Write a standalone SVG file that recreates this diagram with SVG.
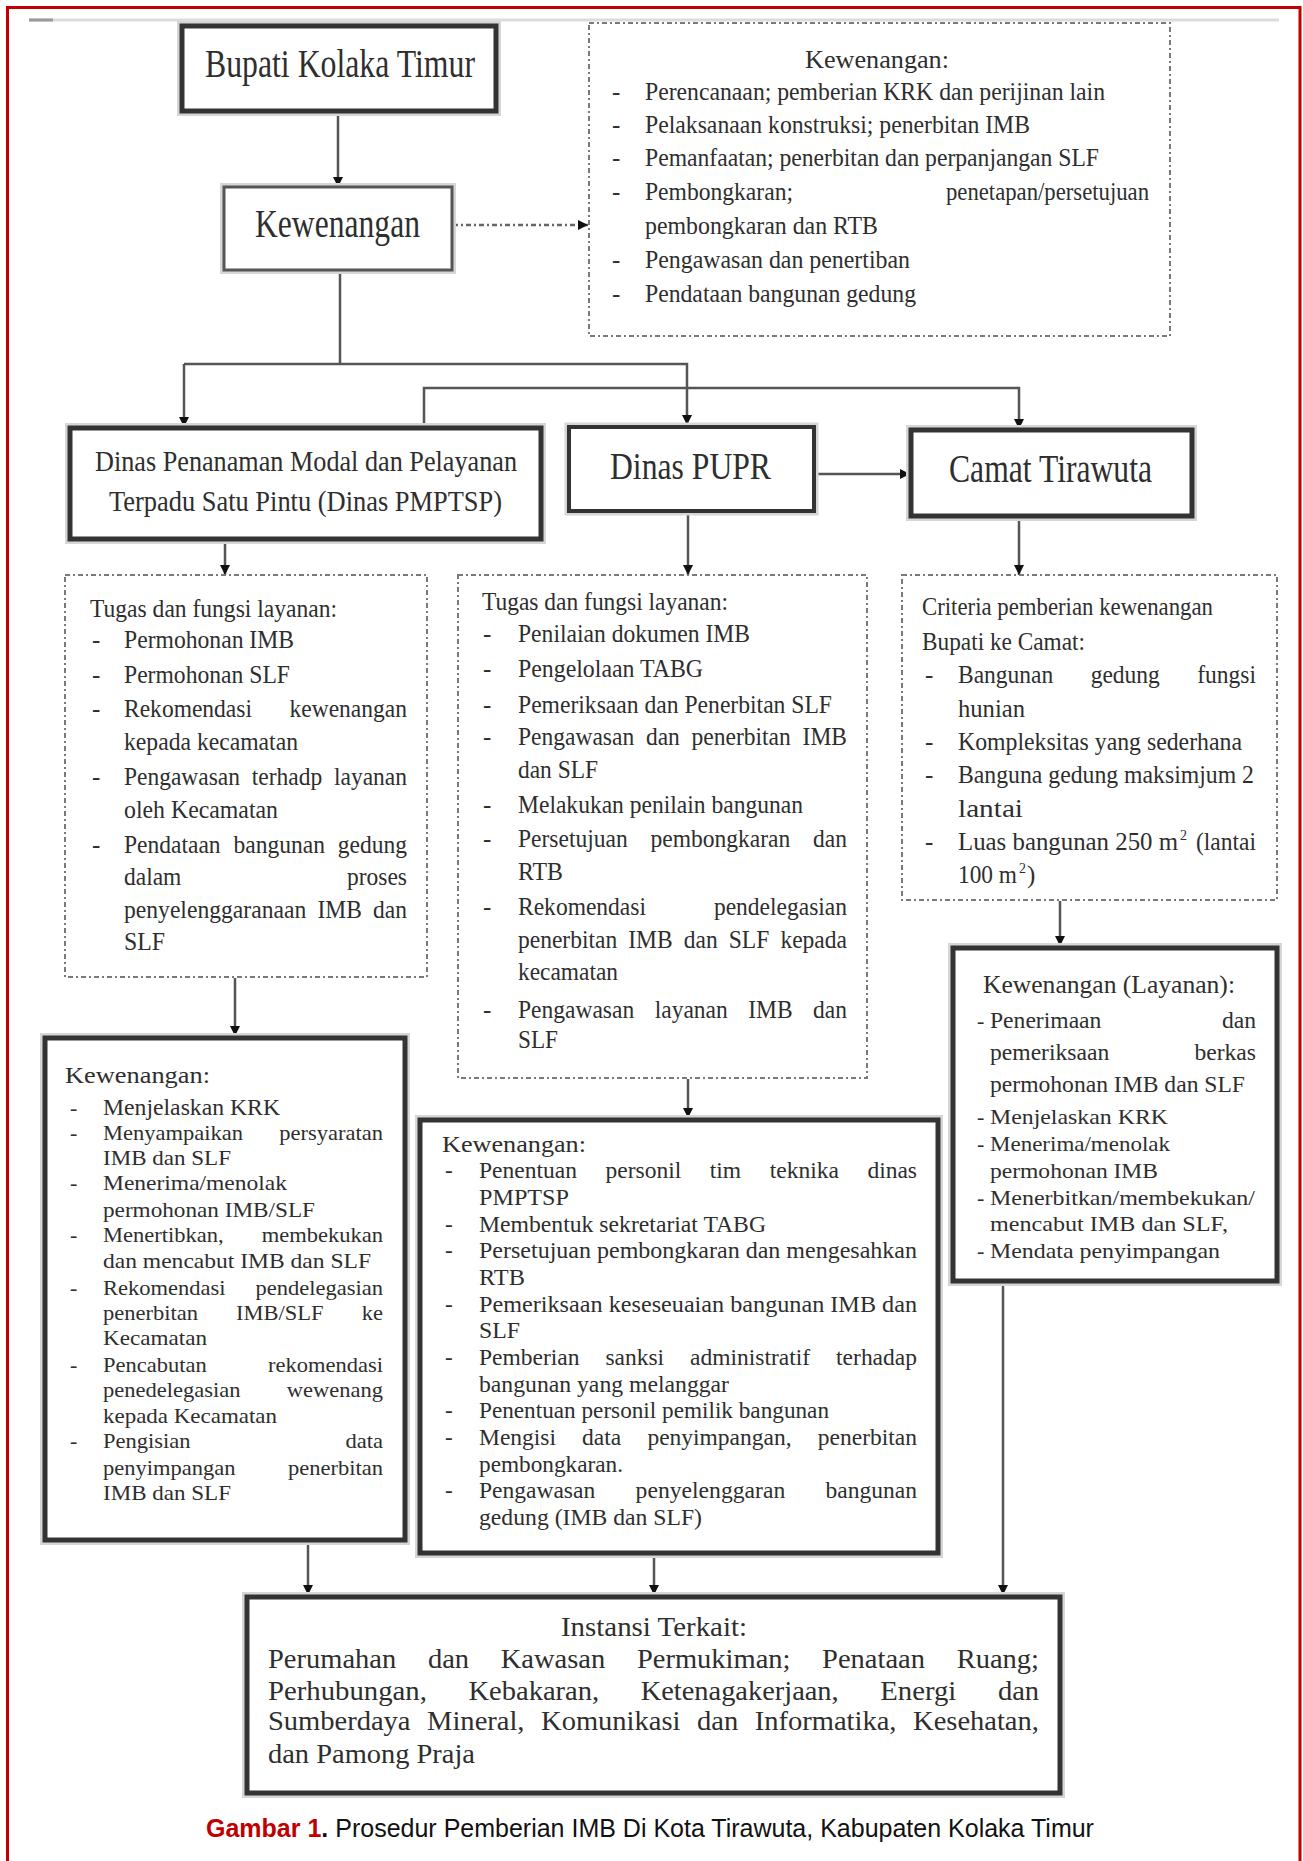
<svg xmlns="http://www.w3.org/2000/svg" width="1303" height="1861" viewBox="0 0 1303 1861">
<style>
.t{font-family:"Liberation Serif","Times New Roman",serif;fill:#2e2e2e}
.cap{font-family:"Liberation Sans",Arial,sans-serif;font-size:25px}
.box{fill:#fff;stroke:#333}
.halo{fill:none;stroke:#d6d6d6}
.dot{fill:#fff;stroke:#7a7a7a;stroke-width:2;stroke-dasharray:5 3 2 3}
.ln{fill:none;stroke:#555;stroke-width:2.5}
.s40{font-size:40px}.s38{font-size:38px}.s30{font-size:30px}.s28{font-size:28px}.s25{font-size:25px}.s24{font-size:24px}.s23{font-size:23px}.s22{font-size:22px}.s21{font-size:21px}
.sup{font-size:14px}
</style>
<defs>
<marker id="ah" viewBox="0 0 10 10" refX="10" refY="5" markerWidth="10" markerHeight="11" markerUnits="userSpaceOnUse" orient="auto">
<path d="M0,0 L10,5 L0,10 z" fill="#111"/>
</marker>
</defs>
<rect x="0" y="0" width="1303" height="1861" fill="#fff"/>
<g id="frame">
<path d="M7.5,1861 V7.5 H1300 V1861" fill="none" stroke="#c00000" stroke-width="3"/>
<line x1="29" y1="20" x2="1279" y2="20" stroke="#dcdcdc" stroke-width="3"/>
<line x1="29" y1="20" x2="53" y2="20" stroke="#999" stroke-width="3"/>
</g>

<g id="connectors">
<line class="ln" x1="338" y1="111" x2="338" y2="187" marker-end="url(#ah)"/>
<polyline class="ln" points="340,270 340,364"/>
<polyline class="ln" points="184,364 687,364 687,425" marker-end="url(#ah)"/>
<line class="ln" x1="184" y1="364" x2="184" y2="427" marker-end="url(#ah)"/>
<polyline class="ln" points="424,427 424,388 1019,388 1019,429" marker-end="url(#ah)"/>
<line class="ln" x1="814" y1="474" x2="910" y2="474" marker-end="url(#ah)"/>
<line x1="453" y1="225" x2="588" y2="225" stroke="#666" stroke-width="2.5" stroke-dasharray="5 3 2 3" marker-end="url(#ah)"/>
<line class="ln" x1="225" y1="540" x2="225" y2="575" marker-end="url(#ah)"/>
<line class="ln" x1="688" y1="512" x2="688" y2="575" marker-end="url(#ah)"/>
<line class="ln" x1="1019" y1="518" x2="1019" y2="575" marker-end="url(#ah)"/>
<line class="ln" x1="235" y1="978" x2="235" y2="1036" marker-end="url(#ah)"/>
<line class="ln" x1="688" y1="1079" x2="688" y2="1118" marker-end="url(#ah)"/>
<line class="ln" x1="1060" y1="901" x2="1060" y2="946" marker-end="url(#ah)"/>
<line class="ln" x1="308" y1="1542" x2="308" y2="1595" marker-end="url(#ah)"/>
<line class="ln" x1="654" y1="1555" x2="654" y2="1595" marker-end="url(#ah)"/>
<line class="ln" x1="1003" y1="1283" x2="1003" y2="1595" marker-end="url(#ah)"/>
</g>

<g id="bupati">
<rect class="halo" x="182" y="26" width="314" height="85" stroke-width="10"/>
<rect class="box" x="182" y="26" width="314" height="85" stroke-width="5"/>
<text class="t s40" x="205" y="77" textLength="270" lengthAdjust="spacingAndGlyphs">Bupati Kolaka Timur</text>
</g>

<g id="kewenangan">
<rect class="halo" x="224" y="187" width="228" height="83" stroke-width="8"/>
<rect class="box" x="224" y="187" width="228" height="83" stroke-width="3" style="stroke:#555"/>
<text class="t s40" x="255" y="237" textLength="165" lengthAdjust="spacingAndGlyphs">Kewenangan</text>
</g>

<g id="kewenangan-detail">
<rect class="dot" x="589" y="23" width="581" height="313"/>
<g class="t s25">
<text x="805" y="68" textLength="144" lengthAdjust="spacingAndGlyphs">Kewenangan:</text>
<text x="612" y="100">-</text><text x="645" y="100" textLength="460" lengthAdjust="spacingAndGlyphs">Perencanaan; pemberian KRK dan perijinan lain</text>
<text x="612" y="133">-</text><text x="645" y="133" textLength="385" lengthAdjust="spacingAndGlyphs">Pelaksanaan konstruksi; penerbitan IMB</text>
<text x="612" y="166">-</text><text x="645" y="166" textLength="454" lengthAdjust="spacingAndGlyphs">Pemanfaatan; penerbitan dan perpanjangan SLF</text>
<text x="612" y="200">-</text><text x="645" y="200" textLength="148" lengthAdjust="spacingAndGlyphs">Pembongkaran;</text><text x="946" y="200" textLength="203" lengthAdjust="spacingAndGlyphs">penetapan/persetujuan</text>
<text x="645" y="234" textLength="233" lengthAdjust="spacingAndGlyphs">pembongkaran dan RTB</text>
<text x="612" y="268">-</text><text x="645" y="268" textLength="265" lengthAdjust="spacingAndGlyphs">Pengawasan dan penertiban</text>
<text x="612" y="302">-</text><text x="645" y="302" textLength="271" lengthAdjust="spacingAndGlyphs">Pendataan bangunan gedung</text>
</g>
</g>

<g id="pmptsp">
<rect class="halo" x="70" y="428" width="471" height="111" stroke-width="10"/>
<rect class="box" x="70" y="428" width="471" height="111" stroke-width="5"/>
<text class="t s30" x="95" y="471" textLength="422" lengthAdjust="spacingAndGlyphs">Dinas Penanaman Modal dan Pelayanan</text>
<text class="t s30" x="109" y="511" textLength="393" lengthAdjust="spacingAndGlyphs">Terpadu Satu Pintu (Dinas PMPTSP)</text>
</g>

<g id="pupr">
<rect class="halo" x="569" y="427" width="245" height="84" stroke-width="9"/>
<rect class="box" x="569" y="427" width="245" height="84" stroke-width="4"/>
<text class="t s38" x="610" y="479" textLength="161" lengthAdjust="spacingAndGlyphs">Dinas PUPR</text>
</g>

<g id="camat">
<rect class="halo" x="911" y="430" width="281" height="86" stroke-width="10"/>
<rect class="box" x="911" y="430" width="281" height="86" stroke-width="5"/>
<text class="t s40" x="949" y="482" textLength="203" lengthAdjust="spacingAndGlyphs">Camat Tirawuta</text>
</g>

<g id="tugas-pmptsp">
<rect class="dot" x="65" y="575" width="362" height="402"/>
<g class="t s25">
<text x="90" y="617" textLength="247" lengthAdjust="spacingAndGlyphs">Tugas dan fungsi layanan:</text>
<text x="92" y="648">-</text><text x="124" y="648" textLength="170" lengthAdjust="spacingAndGlyphs">Permohonan IMB</text>
<text x="92" y="683">-</text><text x="124" y="683" textLength="166" lengthAdjust="spacingAndGlyphs">Permohonan SLF</text>
<text x="92" y="717">-</text><text x="124" y="717" textLength="128" lengthAdjust="spacingAndGlyphs">Rekomendasi</text><text x="289.5" y="717" textLength="117.5" lengthAdjust="spacingAndGlyphs">kewenangan</text>
<text x="124" y="750" textLength="174" lengthAdjust="spacingAndGlyphs">kepada kecamatan</text>
<text x="92" y="785">-</text><text x="124" y="785" textLength="116" lengthAdjust="spacingAndGlyphs">Pengawasan</text><text x="251.8" y="785" textLength="70.5" lengthAdjust="spacingAndGlyphs">terhadp</text><text x="334" y="785" textLength="73" lengthAdjust="spacingAndGlyphs">layanan</text>
<text x="124" y="818" textLength="154" lengthAdjust="spacingAndGlyphs">oleh Kecamatan</text>
<text x="92" y="853">-</text><text x="124" y="853" textLength="96.6" lengthAdjust="spacingAndGlyphs">Pendataan</text><text x="233.5" y="853" textLength="91.4" lengthAdjust="spacingAndGlyphs">bangunan</text><text x="337.8" y="853" textLength="69.2" lengthAdjust="spacingAndGlyphs">gedung</text>
<text x="124" y="885" textLength="57.4" lengthAdjust="spacingAndGlyphs">dalam</text><text x="347" y="885" textLength="60" lengthAdjust="spacingAndGlyphs">proses</text>
<text x="124" y="918" textLength="182.2" lengthAdjust="spacingAndGlyphs">penyelenggaranaan</text><text x="317.5" y="918" textLength="44.4" lengthAdjust="spacingAndGlyphs">IMB</text><text x="373.1" y="918" textLength="33.9" lengthAdjust="spacingAndGlyphs">dan</text>
<text x="124" y="950" textLength="41" lengthAdjust="spacingAndGlyphs">SLF</text>
</g>
</g>

<g id="tugas-pupr">
<rect class="dot" x="458" y="575" width="409" height="503"/>
<g class="t s25">
<text x="482" y="610" textLength="246" lengthAdjust="spacingAndGlyphs">Tugas dan fungsi layanan:</text>
<text x="483" y="642">-</text><text x="518" y="642" textLength="232" lengthAdjust="spacingAndGlyphs">Penilaian dokumen IMB</text>
<text x="483" y="677">-</text><text x="518" y="677" textLength="185" lengthAdjust="spacingAndGlyphs">Pengelolaan TABG</text>
<text x="483" y="713">-</text><text x="518" y="713" textLength="314" lengthAdjust="spacingAndGlyphs">Pemeriksaan dan Penerbitan SLF</text>
<text x="483" y="745">-</text><text x="518" y="745" textLength="116.2" lengthAdjust="spacingAndGlyphs">Pengawasan</text><text x="645.9" y="745" textLength="33.9" lengthAdjust="spacingAndGlyphs">dan</text><text x="691.6" y="745" textLength="99.2" lengthAdjust="spacingAndGlyphs">penerbitan</text><text x="802.6" y="745" textLength="44.4" lengthAdjust="spacingAndGlyphs">IMB</text>
<text x="518" y="778" textLength="80" lengthAdjust="spacingAndGlyphs">dan SLF</text>
<text x="483" y="813">-</text><text x="518" y="813" textLength="285" lengthAdjust="spacingAndGlyphs">Melakukan penilain bangunan</text>
<text x="483" y="847">-</text><text x="518" y="847" textLength="109.7" lengthAdjust="spacingAndGlyphs">Persetujuan</text><text x="650.5" y="847" textLength="139.7" lengthAdjust="spacingAndGlyphs">pembongkaran</text><text x="813.1" y="847" textLength="33.9" lengthAdjust="spacingAndGlyphs">dan</text>
<text x="518" y="880" textLength="45" lengthAdjust="spacingAndGlyphs">RTB</text>
<text x="483" y="915">-</text><text x="518" y="915" textLength="128" lengthAdjust="spacingAndGlyphs">Rekomendasi</text><text x="713.9" y="915" textLength="133.1" lengthAdjust="spacingAndGlyphs">pendelegasian</text>
<text x="518" y="948" textLength="99.2" lengthAdjust="spacingAndGlyphs">penerbitan</text><text x="628.3" y="948" textLength="44.4" lengthAdjust="spacingAndGlyphs">IMB</text><text x="683.8" y="948" textLength="33.9" lengthAdjust="spacingAndGlyphs">dan</text><text x="728.8" y="948" textLength="40.5" lengthAdjust="spacingAndGlyphs">SLF</text><text x="780.4" y="948" textLength="66.6" lengthAdjust="spacingAndGlyphs">kepada</text>
<text x="518" y="980" textLength="100" lengthAdjust="spacingAndGlyphs">kecamatan</text>
<text x="483" y="1018">-</text><text x="518" y="1018" textLength="116.2" lengthAdjust="spacingAndGlyphs">Pengawasan</text><text x="654.7" y="1018" textLength="73.1" lengthAdjust="spacingAndGlyphs">layanan</text><text x="748.3" y="1018" textLength="44.4" lengthAdjust="spacingAndGlyphs">IMB</text><text x="813.1" y="1018" textLength="33.9" lengthAdjust="spacingAndGlyphs">dan</text>
<text x="518" y="1048" textLength="40" lengthAdjust="spacingAndGlyphs">SLF</text>
</g>
</g>

<g id="kriteria">
<rect class="dot" x="902" y="575" width="375" height="325"/>
<g class="t s25">
<text x="922" y="615" textLength="291" lengthAdjust="spacingAndGlyphs">Criteria pemberian kewenangan</text>
<text x="922" y="650" textLength="163" lengthAdjust="spacingAndGlyphs">Bupati ke Camat:</text>
<text x="925" y="683">-</text><text x="958" y="683" textLength="95.3" lengthAdjust="spacingAndGlyphs">Bangunan</text><text x="1090.7" y="683" textLength="69.2" lengthAdjust="spacingAndGlyphs">gedung</text><text x="1197.3" y="683" textLength="58.7" lengthAdjust="spacingAndGlyphs">fungsi</text>
<text x="958" y="717" textLength="67" lengthAdjust="spacingAndGlyphs">hunian</text>
<text x="925" y="750">-</text><text x="958" y="750" textLength="284" lengthAdjust="spacingAndGlyphs">Kompleksitas yang sederhana</text>
<text x="925" y="783">-</text><text x="958" y="783" textLength="296" lengthAdjust="spacingAndGlyphs">Banguna gedung maksimjum 2</text>
<text x="958" y="817" textLength="65" lengthAdjust="spacingAndGlyphs">lantai</text>
<text x="925" y="850">-</text><text x="958" y="850" textLength="220" lengthAdjust="spacingAndGlyphs">Luas bangunan 250 m</text><text class="sup" x="1180" y="840">2</text><text x="1196" y="850" textLength="60" lengthAdjust="spacingAndGlyphs">(lantai</text>
<text x="958" y="883" textLength="59" lengthAdjust="spacingAndGlyphs">100 m</text><text class="sup" x="1019" y="873">2</text><text x="1027" y="883">)</text>
</g>
</g>

<g id="kewenangan-pmptsp">
<rect class="halo" x="45" y="1038" width="360" height="502" stroke-width="10"/>
<rect class="box" x="45" y="1038" width="360" height="502" stroke-width="5"/>
<g class="t s22">
<text class="s24" x="65" y="1083" textLength="145" lengthAdjust="spacingAndGlyphs">Kewenangan:</text>
<text x="70" y="1115">-</text><text class="s24" x="103" y="1115" textLength="177" lengthAdjust="spacingAndGlyphs">Menjelaskan KRK</text>
<text x="70" y="1140">-</text><text x="103" y="1140" textLength="140" lengthAdjust="spacingAndGlyphs">Menyampaikan</text><text x="279.3" y="1140" textLength="103.7" lengthAdjust="spacingAndGlyphs">persyaratan</text>
<text x="103" y="1165" textLength="128" lengthAdjust="spacingAndGlyphs">IMB dan SLF</text>
<text x="70" y="1190">-</text><text x="103" y="1190" textLength="184" lengthAdjust="spacingAndGlyphs">Menerima/menolak</text>
<text x="103" y="1217" textLength="212" lengthAdjust="spacingAndGlyphs">permohonan IMB/SLF</text>
<text x="70" y="1242">-</text><text x="103" y="1242" textLength="120.6" lengthAdjust="spacingAndGlyphs">Menertibkan,</text><text x="261.8" y="1242" textLength="121.2" lengthAdjust="spacingAndGlyphs">membekukan</text>
<text x="103" y="1268" textLength="268" lengthAdjust="spacingAndGlyphs">dan mencabut IMB dan SLF</text>
<text x="70" y="1295">-</text><text x="103" y="1295" textLength="122.5" lengthAdjust="spacingAndGlyphs">Rekomendasi</text><text x="255.5" y="1295" textLength="127.5" lengthAdjust="spacingAndGlyphs">pendelegasian</text>
<text x="103" y="1320" textLength="95" lengthAdjust="spacingAndGlyphs">penerbitan</text><text x="236.1" y="1320" textLength="87.5" lengthAdjust="spacingAndGlyphs">IMB/SLF</text><text x="361.8" y="1320" textLength="21.2" lengthAdjust="spacingAndGlyphs">ke</text>
<text x="103" y="1345" textLength="104" lengthAdjust="spacingAndGlyphs">Kecamatan</text>
<text x="70" y="1372">-</text><text x="103" y="1372" textLength="103.7" lengthAdjust="spacingAndGlyphs">Pencabutan</text><text x="268" y="1372" textLength="115" lengthAdjust="spacingAndGlyphs">rekomendasi</text>
<text x="103" y="1397" textLength="137.5" lengthAdjust="spacingAndGlyphs">penedelegasian</text><text x="286.8" y="1397" textLength="96.2" lengthAdjust="spacingAndGlyphs">wewenang</text>
<text x="103" y="1423" textLength="174" lengthAdjust="spacingAndGlyphs">kepada Kecamatan</text>
<text x="70" y="1448">-</text><text x="103" y="1448" textLength="87.5" lengthAdjust="spacingAndGlyphs">Pengisian</text><text x="345.5" y="1448" textLength="37.5" lengthAdjust="spacingAndGlyphs">data</text>
<text x="103" y="1475" textLength="132.5" lengthAdjust="spacingAndGlyphs">penyimpangan</text><text x="288" y="1475" textLength="95" lengthAdjust="spacingAndGlyphs">penerbitan</text>
<text x="103" y="1500" textLength="128" lengthAdjust="spacingAndGlyphs">IMB dan SLF</text>
</g>
</g>

<g id="kewenangan-pupr">
<rect class="halo" x="420" y="1120" width="518" height="433" stroke-width="10"/>
<rect class="box" x="420" y="1120" width="518" height="433" stroke-width="5"/>
<g class="t s23">
<text x="442" y="1152" textLength="144" lengthAdjust="spacingAndGlyphs">Kewenangan:</text>
<text x="445" y="1178">-</text><text x="479" y="1178" textLength="97.9" lengthAdjust="spacingAndGlyphs">Penentuan</text><text x="605.5" y="1178" textLength="75.7" lengthAdjust="spacingAndGlyphs">personil</text><text x="709.8" y="1178" textLength="31.3" lengthAdjust="spacingAndGlyphs">tim</text><text x="769.7" y="1178" textLength="69.2" lengthAdjust="spacingAndGlyphs">teknika</text><text x="867.4" y="1178" textLength="49.6" lengthAdjust="spacingAndGlyphs">dinas</text>
<text x="479" y="1205" textLength="90" lengthAdjust="spacingAndGlyphs">PMPTSP</text>
<text x="445" y="1232">-</text><text x="479" y="1232" textLength="287" lengthAdjust="spacingAndGlyphs">Membentuk sekretariat TABG</text>
<text x="445" y="1258">-</text><text x="479" y="1258" textLength="438" lengthAdjust="spacingAndGlyphs">Persetujuan pembongkaran dan mengesahkan</text>
<text x="479" y="1285" textLength="46" lengthAdjust="spacingAndGlyphs">RTB</text>
<text x="445" y="1312">-</text><text x="479" y="1312" textLength="438" lengthAdjust="spacingAndGlyphs">Pemeriksaan keseseuaian bangunan IMB dan</text>
<text x="479" y="1338" textLength="41" lengthAdjust="spacingAndGlyphs">SLF</text>
<text x="445" y="1365">-</text><text x="479" y="1365" textLength="100.5" lengthAdjust="spacingAndGlyphs">Pemberian</text><text x="605.4" y="1365" textLength="58.7" lengthAdjust="spacingAndGlyphs">sanksi</text><text x="690.1" y="1365" textLength="120.1" lengthAdjust="spacingAndGlyphs">administratif</text><text x="836.1" y="1365" textLength="80.9" lengthAdjust="spacingAndGlyphs">terhadap</text>
<text x="479" y="1392" textLength="250" lengthAdjust="spacingAndGlyphs">bangunan yang melanggar</text>
<text x="445" y="1418">-</text><text x="479" y="1418" textLength="350" lengthAdjust="spacingAndGlyphs">Penentuan personil pemilik bangunan</text>
<text x="445" y="1445">-</text><text x="479" y="1445" textLength="77" lengthAdjust="spacingAndGlyphs">Mengisi</text><text x="582.1" y="1445" textLength="39.2" lengthAdjust="spacingAndGlyphs">data</text><text x="647.4" y="1445" textLength="144.2" lengthAdjust="spacingAndGlyphs">penyimpangan,</text><text x="817.8" y="1445" textLength="99.2" lengthAdjust="spacingAndGlyphs">penerbitan</text>
<text x="479" y="1472" textLength="144" lengthAdjust="spacingAndGlyphs">pembongkaran.</text>
<text x="445" y="1498">-</text><text x="479" y="1498" textLength="116.2" lengthAdjust="spacingAndGlyphs">Pengawasan</text><text x="635.6" y="1498" textLength="149.6" lengthAdjust="spacingAndGlyphs">penyelenggaran</text><text x="825.6" y="1498" textLength="91.4" lengthAdjust="spacingAndGlyphs">bangunan</text>
<text x="479" y="1525" textLength="223" lengthAdjust="spacingAndGlyphs">gedung (IMB dan SLF)</text>
</g>
</g>

<g id="kewenangan-layanan">
<rect class="halo" x="953" y="948" width="324" height="333" stroke-width="10"/>
<rect class="box" x="953" y="948" width="324" height="333" stroke-width="5"/>
<g class="t s22">
<text class="s25" x="983" y="993" textLength="252" lengthAdjust="spacingAndGlyphs">Kewenangan (Layanan):</text>
<text x="977" y="1028">-</text><text class="s24" x="990" y="1028" textLength="111.4" lengthAdjust="spacingAndGlyphs">Penerimaan</text><text class="s24" x="1221.9" y="1028" textLength="34.1" lengthAdjust="spacingAndGlyphs">dan</text>
<text class="s24" x="990" y="1060" textLength="119.3" lengthAdjust="spacingAndGlyphs">pemeriksaan</text><text class="s24" x="1194.4" y="1060" textLength="61.6" lengthAdjust="spacingAndGlyphs">berkas</text>
<text class="s24" x="990" y="1092" textLength="255" lengthAdjust="spacingAndGlyphs">permohonan IMB dan SLF</text>
<text x="977" y="1124">-</text><text x="990" y="1124" textLength="178" lengthAdjust="spacingAndGlyphs">Menjelaskan KRK</text>
<text x="977" y="1151">-</text><text x="990" y="1151" textLength="180" lengthAdjust="spacingAndGlyphs">Menerima/menolak</text>
<text x="990" y="1178" textLength="168" lengthAdjust="spacingAndGlyphs">permohonan IMB</text>
<text x="977" y="1205">-</text><text x="990" y="1205" textLength="265" lengthAdjust="spacingAndGlyphs">Menerbitkan/membekukan/</text>
<text x="990" y="1231" textLength="238" lengthAdjust="spacingAndGlyphs">mencabut IMB dan SLF,</text>
<text x="977" y="1258">-</text><text x="990" y="1258" textLength="230" lengthAdjust="spacingAndGlyphs">Mendata penyimpangan</text>
</g>
</g>

<g id="instansi-terkait">
<rect class="halo" x="247" y="1597" width="813" height="196" stroke-width="10"/>
<rect class="box" x="247" y="1597" width="813" height="196" stroke-width="5"/>
<g class="t s28">
<text x="561" y="1636" textLength="186" lengthAdjust="spacingAndGlyphs">Instansi Terkait:</text>
<text x="268" y="1668" textLength="128.2" lengthAdjust="spacingAndGlyphs">Perumahan</text><text x="427.9" y="1668" textLength="41.2" lengthAdjust="spacingAndGlyphs">dan</text><text x="500.7" y="1668" textLength="104.5" lengthAdjust="spacingAndGlyphs">Kawasan</text><text x="636.9" y="1668" textLength="153.6" lengthAdjust="spacingAndGlyphs">Permukiman;</text><text x="822.1" y="1668" textLength="102.9" lengthAdjust="spacingAndGlyphs">Penataan</text><text x="956.7" y="1668" textLength="82.3" lengthAdjust="spacingAndGlyphs">Ruang;</text>
<text x="268" y="1700" textLength="158.9" lengthAdjust="spacingAndGlyphs">Perhubungan,</text><text x="468.5" y="1700" textLength="130.6" lengthAdjust="spacingAndGlyphs">Kebakaran,</text><text x="640.7" y="1700" textLength="198" lengthAdjust="spacingAndGlyphs">Ketenagakerjaan,</text><text x="880.3" y="1700" textLength="76" lengthAdjust="spacingAndGlyphs">Energi</text><text x="997.9" y="1700" textLength="41.2" lengthAdjust="spacingAndGlyphs">dan</text>
<text x="268" y="1730" textLength="142.5" lengthAdjust="spacingAndGlyphs">Sumberdaya</text><text x="427.1" y="1730" textLength="97.4" lengthAdjust="spacingAndGlyphs">Mineral,</text><text x="541.1" y="1730" textLength="139.3" lengthAdjust="spacingAndGlyphs">Komunikasi</text><text x="697" y="1730" textLength="41.2" lengthAdjust="spacingAndGlyphs">dan</text><text x="754.8" y="1730" textLength="141.7" lengthAdjust="spacingAndGlyphs">Informatika,</text><text x="913.1" y="1730" textLength="125.8" lengthAdjust="spacingAndGlyphs">Kesehatan,</text>
<text x="268" y="1763" textLength="207" lengthAdjust="spacingAndGlyphs">dan Pamong Praja</text>
</g>
</g>

<g id="caption">
<text class="cap" x="206" y="1837"><tspan fill="#c00000" font-weight="bold">Gambar 1</tspan><tspan fill="#111" font-weight="bold">.</tspan><tspan fill="#111"> Prosedur Pemberian IMB Di Kota Tirawuta, Kabupaten Kolaka Timur</tspan></text>
</g>
</svg>
